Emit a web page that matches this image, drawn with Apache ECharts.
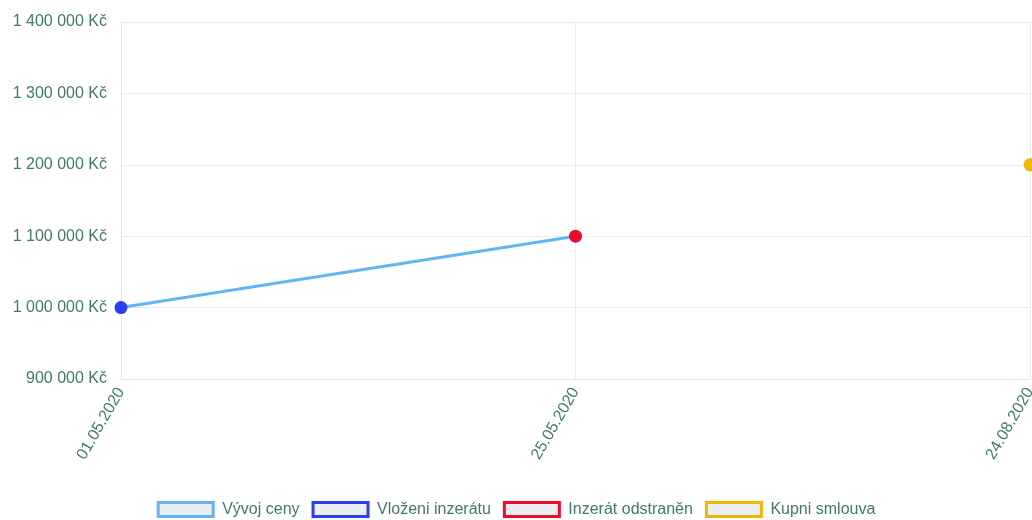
<!DOCTYPE html>
<html>
<head>
<meta charset="utf-8">
<script src="https://cdn.jsdelivr.net/npm/echarts@6/dist/echarts.min.js"></script>
<style>html,body{margin:0;padding:0;background:#fff}#c{width:1032px;height:520px}</style>
</head>
<body>
<div id="c"></div>
<script>
const categories = ['01.05.2020', '25.05.2020', '24.08.2020'];
const vyvojCeny = [1000000, 1100000, null];
const vlozeniInzeratu = [1000000, null, null];
const inzeratOdstranen = [null, 1100000, null];
const kupniSmlouva = [null, null, 1200000];
const seriesNames = ['Vývoj ceny', 'Vloženi inzerátu', 'Inzerát odstraněn', 'Kupni smlouva'];

const txt = '#3f7a69';
const colors = ['#62b5f2', '#2b3ef0', '#ef0a2c', '#f2b705'];
const chart = echarts.init(document.getElementById('c'));
function fmt(v){ return String(v).replace(/\B(?=(\d{3})+(?!\d))/g, ' ') + ' Kč'; }
chart.setOption({
  animation: false,
  grid: { left: 121, right: 2, top: 22, bottom: 141, containLabel: false, outerBoundsMode: 'none' },
  legend: {
    bottom: -3, left: 'center', icon: 'rect', itemWidth: 55, itemHeight: 14, itemGap: 12,
    textStyle: { color: txt, fontSize: 16, fontFamily: 'Liberation Sans, Arial', padding: [0,0,0,4] },
    data: seriesNames.map((n, i) => ({ name: n, itemStyle: { color: '#eaf0f1', borderColor: colors[i], borderWidth: 3 } }))
  },
  xAxis: {
    type: 'category', data: categories, boundaryGap: false,
    axisLine: { show: true, lineStyle: { color: '#e6e6e6' } },
    axisTick: { show: false },
    splitLine: { show: true, lineStyle: { color: '#ececec' } },
    axisLabel: { rotate: 60, color: txt, fontSize: 16, fontFamily: 'Liberation Sans, Arial', margin: 10 }
  },
  yAxis: {
    type: 'value', min: 900000, max: 1400000, interval: 100000,
    axisLine: { show: true, lineStyle: { color: '#e6e6e6' } },
    axisTick: { show: false },
    splitLine: { show: true, lineStyle: { color: '#ececec' } },
    axisLabel: { color: txt, fontSize: 16, fontFamily: 'Liberation Sans, Arial', margin: 14, formatter: fmt }
  },
  series: [
    { name: seriesNames[0], type: 'line', data: vyvojCeny, showSymbol: false, symbol: 'none',
      lineStyle: { color: colors[0], width: 3 }, itemStyle: { color: colors[0] }, z: 1 },
    { name: seriesNames[1], type: 'line', data: vlozeniInzeratu, symbol: 'circle', symbolSize: 13, showAllSymbol: true,
      itemStyle: { color: colors[1] }, lineStyle: { width: 0 }, z: 3 },
    { name: seriesNames[2], type: 'line', data: inzeratOdstranen, symbol: 'circle', symbolSize: 13, showAllSymbol: true,
      itemStyle: { color: colors[2] }, lineStyle: { width: 0 }, z: 3 },
    { name: seriesNames[3], type: 'line', data: kupniSmlouva, symbol: 'circle', symbolSize: 13, showAllSymbol: true,
      itemStyle: { color: colors[3] }, lineStyle: { width: 0 }, z: 3 }
  ]
});
</script>
</body>
</html>
